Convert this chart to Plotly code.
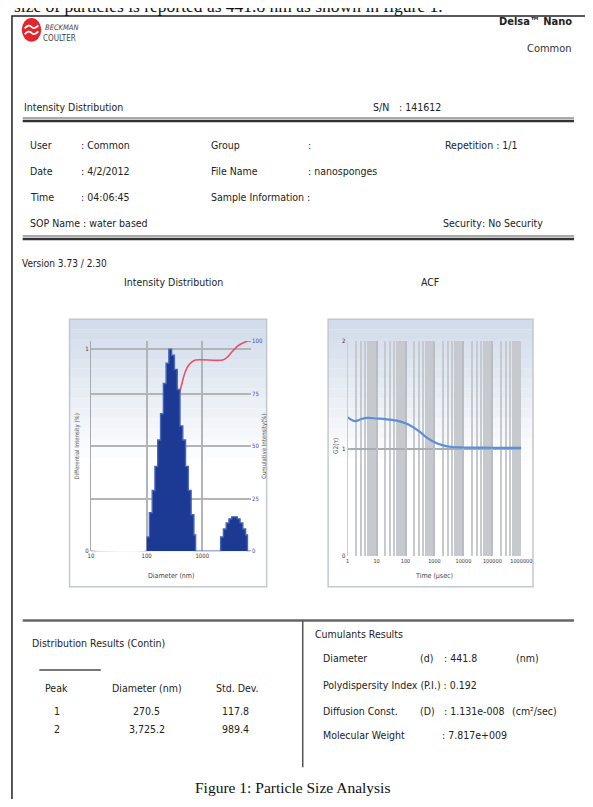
import plotly.graph_objects as go

# page body has an 8px margin; figure sized so the page is exactly 593x807
OFF = 8
FW, FH = 593 - 2 * OFF, 807 - 2 * OFF
SANS = "DejaVu Sans Condensed, Liberation Sans Narrow, Roboto Condensed, Arial Narrow, sans-serif"
SERIF = "Liberation Serif, DejaVu Serif, serif"

# ---- data ----
dist_diameter_nm = [100, 112, 126, 141, 158, 178, 200, 224, 251, 282, 316, 355, 398, 447, 501,
                    562, 631, 708, 760, 2138, 2399, 2692, 3020, 3388, 3802, 4266, 4786, 5370,
                    6026, 6500, 7540]
dist_intensity = [0.07, 0.19, 0.30, 0.42, 0.55, 0.68, 0.83, 0.93, 1.00, 0.97, 0.90, 0.80, 0.62,
                  0.55, 0.42, 0.30, 0.18, 0.08, 0.0, 0.07, 0.11, 0.14, 0.16, 0.17, 0.17, 0.16,
                  0.14, 0.11, 0.08, 0.0, 0.0]
cum_diameter_nm = [10, 100, 126, 158, 200, 251, 316, 384, 433, 490, 552, 646, 760, 2340, 2860,
                   3470, 4260, 5240, 6680, 7540]
cum_percent = [0, 0, 2, 7, 17, 32, 52, 74, 80, 85, 88, 90, 91, 91, 92.5, 95, 97.5, 99, 100, 100]

acf_time_us = [1, 1.8, 3, 5, 10, 20, 50, 100, 180, 300, 500, 1000, 2000, 4000, 10000, 100000, 1000000]
acf_g2 = [1.29, 1.255, 1.275, 1.285, 1.28, 1.275, 1.26, 1.235, 1.2, 1.16, 1.11, 1.06, 1.03,
          1.015, 1.01, 1.008, 1.006]

int_xticks = [10, 100, 1000]
int_xticktext = ["10", "100", "1000"]
acf_xticks = [1, 10, 100, 1000, 10000, 100000, 1000000]
acf_xticktext = ["1", "10", "100", "1000", "10000", "100000", "1000000"]

peaks = ["1", "2"]
peak_diam = ["270.5", "3,725.2"]
peak_sd = ["117.8", "989.4"]


def px(x):
    return (x - OFF) / FW


def py(y):
    return 1 - (y - OFF) / FH


fig = go.Figure()

fig.add_trace(go.Scatter(x=cum_diameter_nm, y=cum_percent, xaxis="x", yaxis="y",
                         mode="lines", line=dict(color="#e8506a", width=1.6, shape="spline"),
                         hoverinfo="skip", showlegend=False))
fig.add_trace(go.Scatter(x=dist_diameter_nm, y=dist_intensity, xaxis="x", yaxis="y2",
                         mode="lines", line=dict(color="#4a64b8", width=1.4, shape="hv"),
                         fill="tozeroy", fillcolor="#1c3a94",
                         hoverinfo="skip", showlegend=False))
fig.add_trace(go.Scatter(x=acf_time_us, y=acf_g2, xaxis="x3", yaxis="y3", mode="lines",
                         line=dict(color="#5b8fd8", width=2.2, shape="spline"),
                         hoverinfo="skip", showlegend=False))

grid = "#b2b4b8"
TF = dict(size=6, color="#333", family=SANS)
fig.update_layout(
    width=FW, height=FH, autosize=False,
    margin=dict(l=0, r=0, t=0, b=0),
    paper_bgcolor="white", plot_bgcolor="rgba(0,0,0,0)",
    showlegend=False,
    xaxis=dict(type="log", domain=[px(90), px(254)], anchor="y", range=[1, 3.877],
               tickvals=int_xticks, ticktext=int_xticktext, showgrid=True,
               gridcolor=grid, gridwidth=1.5, zeroline=False, showline=False,
               ticks="", tickfont=TF),
    yaxis=dict(domain=[py(552), py(340)], anchor="x", side="right", range=[0, 100],
               tickvals=[0, 25, 50, 75, 100], ticktext=["0", "25", "50", "75", "100"],
               showgrid=False, zeroline=False, ticks="",
               minor=dict(tickvals=[25, 50, 75], showgrid=True, gridcolor=grid, gridwidth=1.5),
               tickfont=dict(size=6, color="#4a4aa8", family=SANS)),
    yaxis2=dict(overlaying="y", side="left", anchor="x", range=[0, 1.04],
                tickvals=[0, 1], ticktext=["0", "1"], showgrid=False, zeroline=False,
                minor=dict(tickvals=[1], showgrid=True, gridcolor=grid, gridwidth=1.5),
                showline=True, linecolor="#a8aab0", linewidth=1.2, ticks="",
                tickfont=TF),
    xaxis3=dict(type="log", domain=[px(353), px(531)], anchor="y3", range=[0, 6],
                tickvals=acf_xticks, ticktext=acf_xticktext, showgrid=True,
                gridcolor="#b9bcc2", gridwidth=2, zeroline=False, ticks="",
                minor=dict(dtick="D1", showgrid=True, gridcolor="#c6c9ce", gridwidth=2),
                tickfont=dict(size=5.5, color="#333", family=SANS)),
    yaxis3=dict(domain=[py(557), py(340)], anchor="x3", range=[0, 2],
                tickvals=[0, 1, 2], ticktext=["0", "1", "2"], showgrid=False,
                minor=dict(tickvals=[1], showgrid=True, gridcolor="#a9acb1", gridwidth=1.5),
                zeroline=False, ticks="", showline=True, linecolor="#c9ccd1",
                tickfont=TF),
)

shapes = []
for (x0, x1) in [(68, 270), (333, 543)]:
    top, bottom = 318, 588
    nb = 14
    for i in range(nb):
        t = i / nb
        r = int(0xd2 + (0xff - 0xd2) * t)
        g = int(0xdc + (0xff - 0xdc) * t)
        b = int(0xea + (0xff - 0xea) * t)
        ya = top + i * 10
        shapes.append(dict(type="rect", xref="paper", yref="paper", layer="below",
                           x0=px(x0), x1=px(x1), y0=py(ya + 10), y1=py(ya),
                           fillcolor=f"rgb({r},{g},{b})", line=dict(width=0)))
    shapes.append(dict(type="rect", xref="paper", yref="paper", layer="below",
                       x0=px(x0), x1=px(x1), y0=py(bottom), y1=py(top),
                       fillcolor="rgba(0,0,0,0)", line=dict(color="#c3c8d0", width=1.5)))

shapes.append(dict(type="rect", xref="paper", yref="paper", x0=px(9), x1=px(640),
                   y0=py(840), y1=py(12), line=dict(color="#222", width=1.5)))


def hline(y, x0, x1, color, width):
    shapes.append(dict(type="line", xref="paper", yref="paper", x0=px(x0), x1=px(x1),
                       y0=py(y), y1=py(y), line=dict(color=color, width=width)))


hline(115, 20, 585, "#a9a9a9", 2)
hline(118, 20, 585, "#333", 2.5)
hline(234, 20, 585, "#a9a9a9", 2)
hline(237, 20, 585, "#333", 2.5)
hline(622, 20, 585, "#666", 2.5)
hline(672, 37, 100, "#777", 2)
shapes.append(dict(type="line", xref="paper", yref="paper", x0=px(307), x1=px(307),
                   y0=py(622), y1=py(770), line=dict(color="#555", width=1.5)))

shapes.append(dict(type="circle", xref="paper", yref="paper", x0=px(19), x1=px(39),
                   y0=py(38), y1=py(14), fillcolor="#e3262d", line=dict(width=0)))
for dy in (-3, 3):
    yc = 26 + dy
    shapes.append(dict(type="path", xref="paper", yref="paper",
                       path=f"M {px(22)},{py(yc+1.5)} Q {px(26)},{py(yc-3)} {px(29)},{py(yc)} "
                            f"T {px(36)},{py(yc-1.5)}",
                       line=dict(color="white", width=1.8)))

fig.update_layout(shapes=shapes)

ann = []


def txt(x, y, s, size=10.5, anchor="left", bold=False, color="#222", family=SANS, angle=0):
    if bold:
        s = f"<b>{s}</b>"
    ann.append(dict(xref="paper", yref="paper", x=px(x), y=py(y), text=s, showarrow=False,
                    xanchor=anchor, yanchor="middle", textangle=angle, borderpad=0,
                    font=dict(size=size, color=color, family=family)))


# sentence of the surrounding page, cut by the top edge as in the scan
txt(10, 1.5, "size of particles is reported as 441.8 nm as shown in figure 1.", size=17.5,
    family=SERIF, color="#111")

txt(42, 24, "<i>BECKMAN</i>", size=7.5, color="#444")
txt(40, 35, "COULTER", size=8, color="#444")
txt(584, 18, "Delsa™ Nano", size=11, anchor="right", bold=True, color="#222")
txt(584, 45, "Common", size=11, anchor="right", color="#333")

txt(20, 104, "Intensity Distribution")
txt(378, 104, "S/N")
txt(405, 104, ": 141612")

txt(26, 142, "User")
txt(79, 142, ": Common")
txt(212, 142, "Group")
txt(311, 142, ":")
txt(452, 142, "Repetition : 1/1")
txt(26, 168, "Date")
txt(79, 168, ": 4/2/2012")
txt(212, 168, "File Name")
txt(311, 168, ": nanosponges")
txt(26, 195, "Time")
txt(79, 195, ": 04:06:45")
txt(212, 195, "Sample Information :")
txt(26, 221, "SOP Name : water based")
txt(450, 221, "Security")
txt(490, 221, ": No Security")

txt(18, 262, "Version 3.73 / 2.30", size=10)
txt(175, 280, "Intensity Distribution", anchor="center")
txt(437, 280, "ACF", anchor="center")

txt(76, 446, "Differential Intensity (%)", size=6, anchor="center", color="#555", angle=-90)
txt(267, 446, "Cumulative Intensity(%)", size=6, anchor="center", color="#555", angle=-90)
txt(172, 577, "Diameter (nm)", size=7, anchor="center", color="#444")
txt(341, 446, "G2(τ)", size=6.5, anchor="center", color="#555", angle=-90)
txt(442, 577, "Time (μsec)", size=7, anchor="center", color="#444")

txt(28, 645, "Distribution Results (Contin)")
txt(55, 690, "Peak", anchor="center")
txt(147, 690, "Diameter (nm)", anchor="center")
txt(240, 690, "Std. Dev.", anchor="center")
for i, yy in enumerate([713, 731]):
    txt(55, yy, peaks[i], anchor="center")
    txt(147, yy, peak_diam[i], anchor="center")
    txt(238, yy, peak_sd[i], anchor="center")

txt(319, 636, "Cumulants Results")
txt(327, 660, "Diameter")
txt(426, 660, "(d)")
txt(451, 660, ": 441.8")
txt(525, 660, "(nm)")
txt(327, 687, "Polydispersity Index (P.I.) : 0.192")
txt(327, 713, "Diffusion Const.")
txt(426, 713, "(D)")
txt(451, 713, ": 1.131e-008")
txt(520, 713, "(cm²/sec)")
txt(327, 737, "Molecular Weight")
txt(449, 737, ": 7.817e+009")

txt(297, 790, "Figure 1: Particle Size Analysis", size=15.5, anchor="center", family=SERIF,
    color="#111")

fig.update_layout(annotations=ann)
fig.write_html("out.html")
